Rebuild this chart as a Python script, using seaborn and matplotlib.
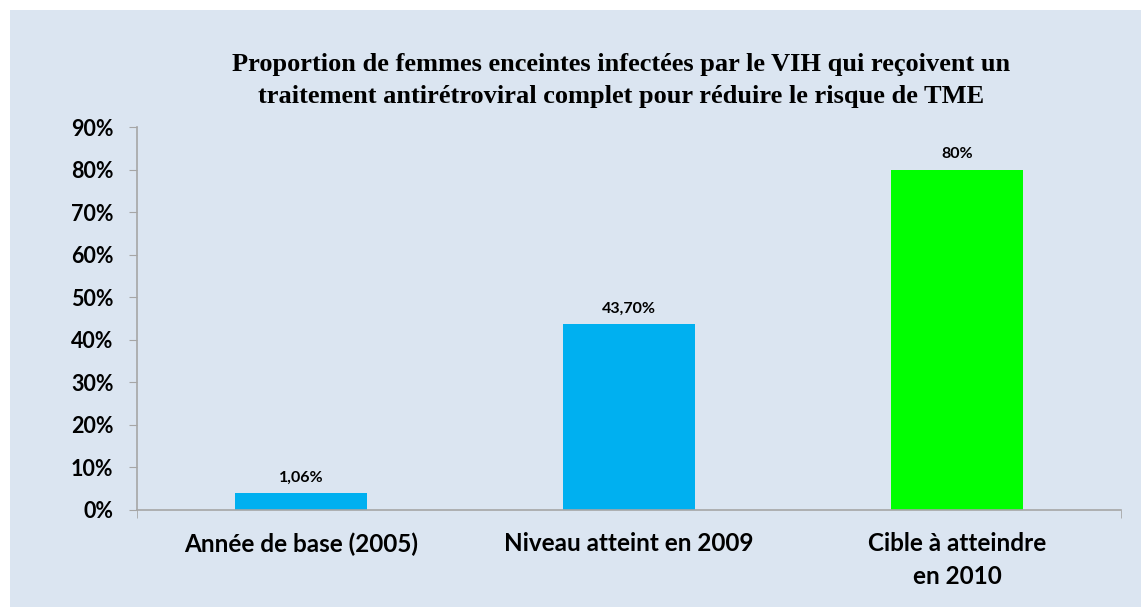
import seaborn as sns
import matplotlib.pyplot as plt
from matplotlib.patches import Rectangle

# Data
categories = ['Année de base (2005)', 'Niveau atteint en 2009', 'Cible à atteindre\nen 2010']
values = [4.06, 43.7, 80]
bar_labels = ['1,06%', '43,70%', '80%']
colors = ['#00B0F0', '#00B0F0', '#00FF00']
yticks = [0, 10, 20, 30, 40, 50, 60, 70, 80, 90]

bg = '#DBE5F1'
axis_gray = '#A6A6A6'

fig = plt.figure(figsize=(11.41, 6.07), dpi=100, facecolor='white')
# light blue panel with a thin white strip at top and left
fig.patches.append(Rectangle((10 / 1141, 0), 1, 1 - 10 / 607, transform=fig.transFigure,
                             facecolor=bg, edgecolor='none', zorder=-10))

ax = fig.add_axes([137 / 1141, 1 - 510 / 607, (1121 - 137) / 1141, (510 - 127) / 607])
ax.set_facecolor('none')

sns.barplot(x=categories, y=values, hue=categories, palette=colors, legend=False,
            width=0.4, saturation=1, ax=ax)

ax.set_xlim(-0.5, 2.5)
ax.set_ylim(0, 90)
ax.set_yticks(yticks)
ax.set_yticklabels([f'{t}%' for t in yticks], fontfamily='Lato', fontweight='bold',
                   fontsize=15.5)
ax.set_xticks(range(len(categories)))
ax.set_xticklabels(categories, fontfamily='Lato', fontweight='bold', fontsize=17.5,
                   linespacing=1.5)
ax.set_xticks([-0.5, 2.5], minor=True)
ax.tick_params(axis='x', which='major', length=0, pad=16)
ax.tick_params(axis='x', which='minor', length=6, color=axis_gray)
ax.tick_params(axis='y', length=6, color=axis_gray, pad=11)
ax.set_xlabel('')
ax.set_ylabel('')

for s in ['top', 'right']:
    ax.spines[s].set_visible(False)
for s in ['left', 'bottom']:
    ax.spines[s].set_color(axis_gray)
    ax.spines[s].set_linewidth(1.2)

for i, (v, lab) in enumerate(zip(values, bar_labels)):
    ax.annotate(lab, (i, v), xytext=(0, 11), textcoords='offset points',
                ha='center', va='center', fontsize=11.5, fontfamily='Lato',
                fontweight='bold')

fig.text(621 / 1141, 1 - 80 / 607,
         'Proportion de femmes enceintes infectées par le VIH qui reçoivent un\n'
         'traitement antirétroviral complet pour réduire le risque de TME',
         ha='center', va='center', fontsize=19, fontfamily='Liberation Serif',
         fontweight='bold', linespacing=1.5)

fig.savefig('out.png', dpi=100, facecolor='white')
